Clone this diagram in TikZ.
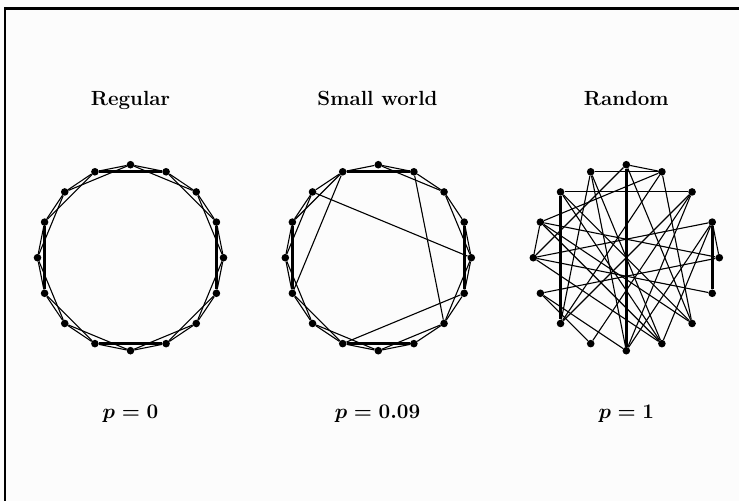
\documentclass[tikz,border=0pt]{standalone}
\usepackage{amsmath}
\definecolor{bg}{RGB}{252,252,252}
\begin{document}
\begin{tikzpicture}[x=1pt,y=-1pt,
  dot/.style={circle,fill=black,inner sep=0pt,minimum size=7.6pt},
  edge/.style={line width=1.1pt,black},
  axe/.style={line width=2.6pt,black},
  title/.style={font=\fontsize{20.5}{24}\selectfont\bfseries,anchor=base},
  plab/.style={font=\fontsize{21}{25}\selectfont\boldmath,anchor=base}]
\fill[bg] (0,0) rectangle (739,501);
\useasboundingbox (0,0) rectangle (739,501);
\draw[line width=3pt] (4,8.5) -- (739,8.5);
\draw[line width=2pt] (5,7) -- (5,501);
% nodes
\foreach \g/\cx in {R/130.5,S/378.3,X/626.3}{
  \foreach \i in {0,...,15}{
    \pgfmathsetmacro\a{90-22.5*\i}
    \node[dot] (\g\i) at ({\cx+93*cos(\a)},{257.7-93*sin(\a)}) {};
  }
}
% titles
\node[title] (t1) at (130.5,105) {Regular};
\node[title] (t2) at (377.5,105) {Small world};
\node[title] (t3) at (626.3,105) {Random};
\node[plab] (p1) at (130.5,418) {$p=0$};
\node[plab] (p2) at (377.5,418) {$p=0.09$};
\node[plab] (p3) at (626.3,418) {$p=1$};
% regular
\foreach \i in {0,...,15}{
  \pgfmathtruncatemacro\j{mod(\i+1,16)}
  \pgfmathtruncatemacro\k{mod(\i+2,16)}
  \draw[edge] (R\i) -- (R\j);
  \draw[edge] (R\i) -- (R\k);
}
\foreach \a/\b in {15/1,7/9,3/5,11/13}{\draw[axe] (R\a) -- (R\b);}
% small world
\foreach \i in {0,...,15}{
  \pgfmathtruncatemacro\j{mod(\i+1,16)}
  \draw[edge] (S\i) -- (S\j);
}
\foreach \a/\b in {0/2,2/4,3/5,4/6,6/8,7/9,8/10,9/11,10/12,11/13,12/14,13/15,15/1}{\draw[edge] (S\a) -- (S\b);}
\foreach \a/\b in {14/4,1/6,15/11,5/9}{\draw[edge] (S\a) -- (S\b);}
\foreach \a/\b in {15/1,7/9,3/5,11/13}{\draw[axe] (S\a) -- (S\b);}
% random
\foreach \a/\b in {0/1,14/2,3/4,5/12,14/6,13/6,1/13,15/1,1/6,8/2,8/3,12/13,11/8,11/9,12/7,15/10,9/2,10/2,15/7,0/6,4/13,12/3,11/4,15/8,7/13,10/1,14/7,12/0,7/3}{\draw[edge] (X\a) -- (X\b);}
\foreach \a/\b in {0/8,14/10,3/5}{\draw[axe] (X\a) -- (X\b);}
\end{tikzpicture}
\end{document}
